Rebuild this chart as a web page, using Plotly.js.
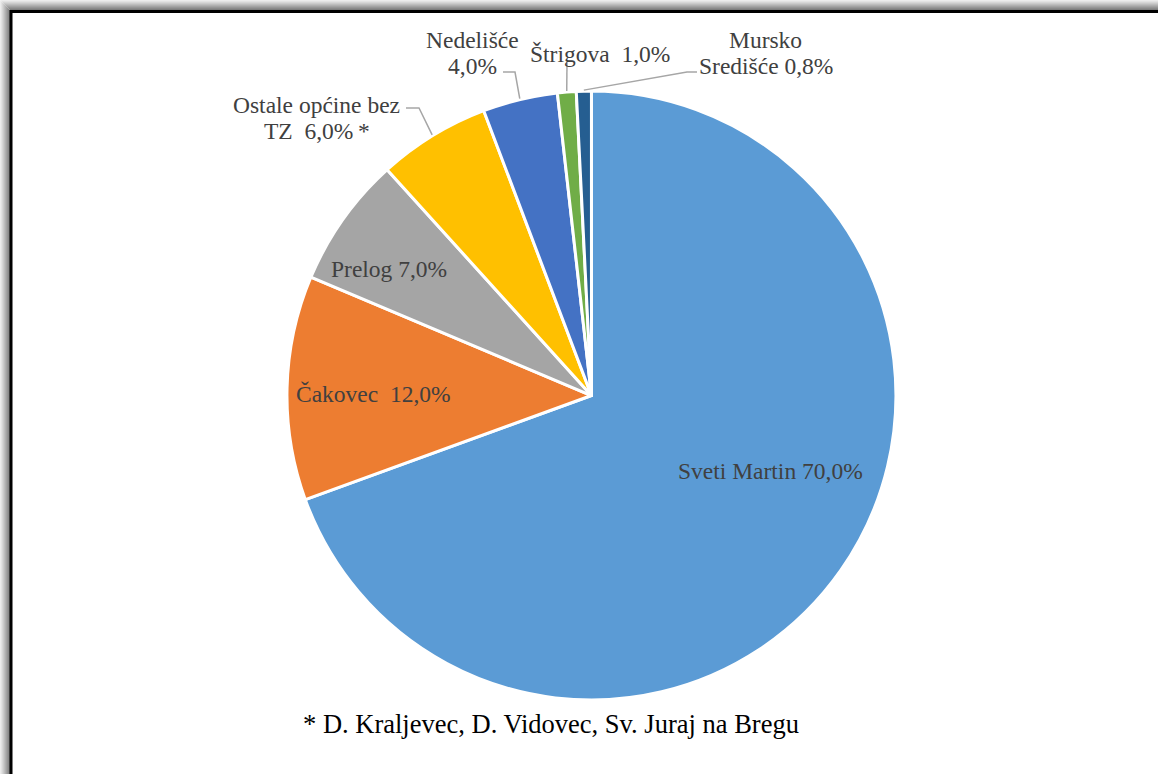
<!DOCTYPE html>
<html>
<head>
<meta charset="utf-8">
<script src="https://cdn.plot.ly/plotly-3.0.1.min.js"></script>
<style>html,body{margin:0;padding:0;background:#fff;}#chart{width:1158px;height:774px;}</style>
</head>
<body>
<div id="chart"></div>
<script>
// ---- data ----
const categories = ['Sveti Martin', 'Čakovec', 'Prelog', 'Ostale općine bez TZ', 'Nedelišće', 'Štrigova', 'Mursko Središće'];
const values = [70, 12, 7, 6, 4, 1, 0.8];
const labelLines = [
  ['Sveti Martin {v}'],
  ['Čakovec\u00A0 {v}'],
  ['Prelog {v}'],
  ['Ostale općine bez', 'TZ\u00A0 {v}\u2009*'],
  ['Nedelišće', '{v}'],
  ['Štrigova\u00A0 {v}'],
  ['Mursko', 'Središće {v}']
];
const footnote = '* D. Kraljevec, D. Vidovec, Sv. Juraj na Bregu';

// ---- style ----
const colors = ['#5B9BD5', '#ED7D31', '#A5A5A5', '#FFC000', '#4472C4', '#70AD47', '#255E91'];
const W = 1158, H = 774;
const domX = [0.2478, 0.7737], domY = [0.0956, 0.8824];
// label centers (px) per line
const labelPos = [
  [[770, 471]],
  [[373, 394]],
  [[389, 269]],
  [[316, 105], [317, 131]],
  [[472, 40], [472, 66]],
  [[600, 54]],
  [[766, 40], [766, 66]]
];
// leader lines: [start, elbow] in px (end point computed on pie edge)
const leaders = {
  3: [[406, 108], [419, 108]],
  4: [[503, 72], [515, 72]],
  5: [[567, 63]],
  6: [[697, 72], [687, 72]]
};
const font = 'Liberation Serif, Times New Roman, serif';

function fmt(v) { return v.toFixed(1).replace('.', ',') + '%'; }
const px = x => x / W;
const py = y => 1 - y / H;

// pie geometry from domain
const cx = (domX[0] + domX[1]) / 2 * W;
const cy = (1 - (domY[0] + domY[1]) / 2) * H;
const R = Math.min((domX[1] - domX[0]) * W, (domY[1] - domY[0]) * H) / 2;
const total = values.reduce((a, b) => a + b, 0);

const annotations = [];
categories.forEach((c, i) => {
  labelLines[i].forEach((ln, j) => {
    const p = labelPos[i][j];
    annotations.push({
      text: ln.replace('{v}', fmt(values[i])),
      x: px(p[0]), y: py(p[1]), xref: 'paper', yref: 'paper',
      xanchor: 'center', yanchor: 'middle', showarrow: false,
      font: {family: font, size: 23.5, color: '#404040'}
    });
  });
});
annotations.push({
  text: footnote, x: px(551), y: py(724), xref: 'paper', yref: 'paper',
  xanchor: 'center', yanchor: 'middle', showarrow: false,
  font: {family: font, size: 26.5, color: '#000000'}
});

const shapes = [];
// frame shadow + border
const shadeCols = ['#ececec','#e2e2e2','#d6d6d6','#cacaca','#bdbdbd','#b0b0b0','#a3a3a3','#969696','#8a8a8a','#7d7d7d'];
shadeCols.forEach((col, i) => {
  shapes.push({type: 'rect', xref: 'paper', yref: 'paper', x0: px(i + 0.5), y0: py(i + 0.5), x1: px(1400), y1: py(1400),
    line: {color: col, width: 1}, fillcolor: 'rgba(0,0,0,0)', layer: 'below'});
});
shapes.push({type: 'rect', xref: 'paper', yref: 'paper', x0: px(11), y0: py(11.5), x1: px(1400), y1: py(1400),
  line: {color: '#000000', width: 3}, fillcolor: 'rgba(0,0,0,0)', layer: 'below'});

// leader lines
let cum = 0;
const mids = values.map(v => { const m = (cum + v / 2) / total * 2 * Math.PI; cum += v; return m; });
Object.keys(leaders).forEach(k => {
  const i = +k;
  const a = mids[i];
  const ex = cx + Math.sin(a) * (R + 1), ey = cy - Math.cos(a) * (R + 1);
  const pts = leaders[k].concat([[ex, ey]]);
  const path = pts.map((p, j) => (j ? 'L' : 'M') + px(p[0]) + ',' + py(p[1])).join(' ');
  shapes.push({type: 'path', xref: 'paper', yref: 'paper', path: path, line: {color: '#a6a6a6', width: 1.5}});
});

const trace = {
  type: 'pie', labels: categories, values: values, sort: false, direction: 'clockwise', rotation: 0,
  marker: {colors: colors, line: {color: '#ffffff', width: 3}},
  textinfo: 'none', hoverinfo: 'none', showlegend: false,
  domain: {x: domX, y: domY}
};

Plotly.newPlot('chart', [trace], {
  width: W, height: H, margin: {l: 0, r: 0, t: 0, b: 0},
  paper_bgcolor: '#ffffff', showlegend: false,
  annotations: annotations, shapes: shapes
}, {displayModeBar: false, staticPlot: true});
</script>
</body>
</html>
